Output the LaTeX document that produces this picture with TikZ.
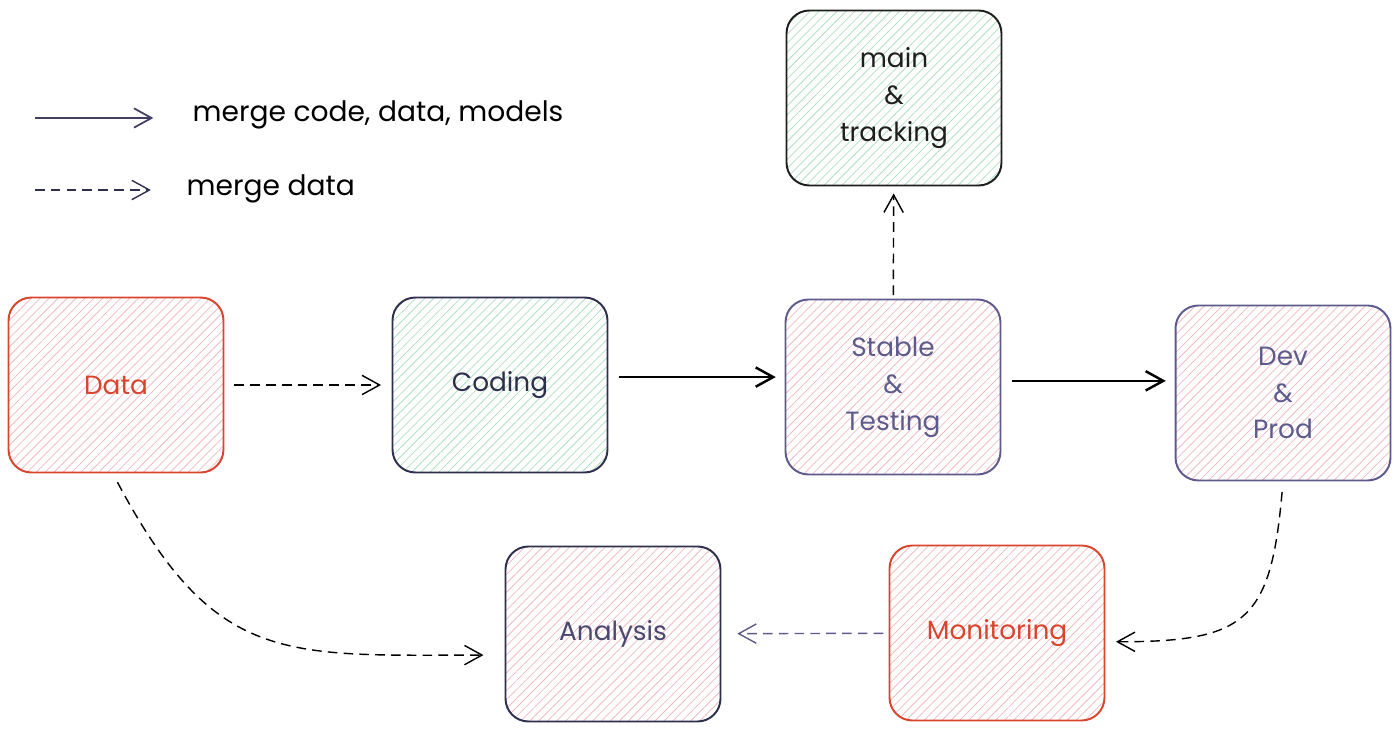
\documentclass[tikz,border=0pt]{standalone}
\usepackage{amsmath}
\usepackage{fontspec}
\setmainfont{Poppins}
\usetikzlibrary{arrows.meta,patterns.meta}

\definecolor{redline}{HTML}{D9442D}
\definecolor{navyline}{HTML}{2E2E4D}
\definecolor{purpleline}{HTML}{5E5A8C}
\definecolor{darkline}{HTML}{1E1E1E}
\definecolor{pinkhatch}{HTML}{EFB9C4}
\definecolor{greenhatch}{HTML}{AEDFC0}

\begin{document}
\begin{tikzpicture}[->,>={Straight Barb[length=10pt,width=11pt]},thick,x=0.02cm,y=-0.02cm]
    \tikzstyle{box}=[rectangle,rounded corners=13pt,minimum width=4.3cm,minimum height=3.5cm,line width=1.1pt,align=center,font=\fontsize{15}{21}\selectfont]
    \tikzstyle{pinkbox}=[box,pattern={Lines[angle=45,distance=3.6pt,line width=0.45pt]},pattern color=pinkhatch]
    \tikzstyle{greenbox}=[box,pattern={Lines[angle=45,distance=3.6pt,line width=0.45pt]},pattern color=greenhatch]
    \tikzstyle{legend}=[inner sep=0pt,anchor=west,font=\fontsize{16}{20}\selectfont]
    \tikzstyle{solidflow}=[line width=1.4pt,shorten <=6pt,shorten >=5pt]
    \tikzstyle{dataflow}=[line width=0.8pt,dash pattern=on 5.5pt off 3.5pt,shorten <=6pt,shorten >=6pt]

    \useasboundingbox (0,0) rectangle (1400,732);

    % Legend
    \coordinate (codestart) at (35,118);
    \coordinate (datastart) at (35,190);
    \node[legend] (codelabel) at (192,115) {merge code, data, models};
    \node[legend] (datalabel) at (186,189) {merge data};

    % Boxes
    \node[pinkbox,draw=redline,text=redline] (data) at (116,385) {Data};
    \node[greenbox,draw=navyline,text=navyline] (coding) at (500,385) {Coding};
    \node[pinkbox,draw=purpleline,text=purpleline] (stable) at (893,387) {Stable\\\&\\Testing};
    \node[greenbox,draw=darkline,text=darkline] (main) at (894,98) {main\\\&\\tracking};
    \node[pinkbox,draw=purpleline,text=purpleline] (dev) at (1283,393) {Dev\\\&\\Prod};
    \node[pinkbox,draw=navyline,text=purpleline!80!black] (analysis) at (613,634) {Analysis};
    \node[pinkbox,draw=redline,text=redline] (monitoring) at (997,633) {Monitoring};

    % Edges
    \path
        (codestart) edge[solidflow,draw=purpleline!70!black,line width=1pt,shorten <=0pt,shorten >=22pt] (codestart -| codelabel.west)
        (datastart) edge[dataflow,draw=navyline,shorten <=0pt,shorten >=20pt] (datastart -| datalabel.west)
        (data) edge[dataflow] (coding)
        ([yshift=4.5pt]coding.east) edge[solidflow] ([yshift=4.5pt]coding.east -| stable.west)
        ([yshift=3.5pt]stable.east) edge[solidflow] ([yshift=3.5pt]stable.east -| dev.west)
        (stable) edge[dataflow,shorten <=2pt,shorten >=4pt] (main)
        ([xshift=-2pt]data.south) edge[dataflow,out=-62,in=180,looseness=1.3,shorten >=12pt] ([yshift=-12pt]analysis.west)
        (dev.south) edge[dataflow,out=-95,in=0,looseness=1.5] ([yshift=-5pt]monitoring.east)
        (monitoring) edge[dataflow,draw=purpleline,shorten <=3pt,shorten >=9pt] (analysis)
        ;
\end{tikzpicture}
\end{document}
